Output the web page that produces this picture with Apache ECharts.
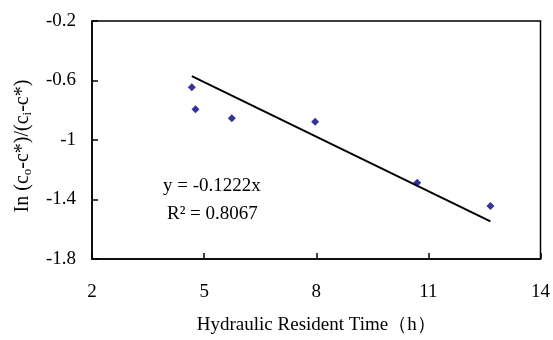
<!DOCTYPE html>
<html>
<head>
<meta charset="utf-8">
<script src="https://cdn.jsdelivr.net/npm/echarts@6/dist/echarts.min.js"></script>
<style>
html,body{margin:0;padding:0;background:#fff;}
#main{width:553px;height:340px;}
</style>
</head>
<body>
<div id="main"></div>
<script>
// Data
var hrtHours = [4.67, 4.77, 5.74, 7.97, 10.70, 12.66];
var lnRatio = [-0.646, -0.793, -0.854, -0.878, -1.288, -1.444];
var trendSlope = -0.1222;
var trendR2 = 0.8067;
var xTicks = [2, 5, 8, 11, 14];
var yTicks = [-1.8, -1.4, -1, -0.6, -0.2];

var points = hrtHours.map(function (x, i) { return [x, lnRatio[i]]; });
var xStart = Math.min.apply(null, hrtHours);
var xEnd = Math.max.apply(null, hrtHours);
var trendLine = [[xStart, trendSlope * xStart], [xEnd, trendSlope * xEnd]];

var FONT = '"Liberation Serif", "Times New Roman", serif';
var chart = echarts.init(document.getElementById('main'), null, {renderer: 'canvas'});
chart.setOption({
  animation: false,
  backgroundColor: '#fff',
  grid: {left: 92, right: 11, top: 21, bottom: 76, show: true, borderColor: '#000', borderWidth: 1.5, backgroundColor: 'transparent'},
  xAxis: {
    type: 'value', min: xTicks[0], max: xTicks[xTicks.length - 1], interval: 3,
    axisLine: {show: true, lineStyle: {color: '#000', width: 1.5}},
    axisTick: {show: true, inside: true, length: 6, lineStyle: {color: '#000', width: 1.5}},
    splitLine: {show: false},
    axisLabel: {color: '#000', fontFamily: FONT, fontSize: 19, margin: 24},
    name: 'Hydraulic Resident Time（h）',
    nameLocation: 'middle', nameGap: 57,
    nameTextStyle: {color: '#000', fontFamily: FONT, fontSize: 19}
  },
  yAxis: {
    type: 'value', min: yTicks[0], max: yTicks[yTicks.length - 1], interval: 0.4,
    axisLine: {show: true, lineStyle: {color: '#000', width: 1.5}},
    axisTick: {show: true, inside: true, length: 6, lineStyle: {color: '#000', width: 1.5}},
    splitLine: {show: false},
    axisLabel: {color: '#000', fontFamily: FONT, fontSize: 19, margin: 16,
      formatter: function (v) { return String(Math.round(v * 10) / 10); }},
    name: '{n|In (c}{s|o}{n|-c*)/(c}{s|i}{n|-c*)}',
    nameLocation: 'middle', nameGap: 58, nameRotate: 90,
    nameTextStyle: {color: '#000', fontFamily: FONT, fontSize: 20, padding: [0, 12, 0, 0],
      rich: {
        n: {fontFamily: FONT, fontSize: 20, color: '#000'},
        s: {fontFamily: FONT, fontSize: 13, color: '#000', verticalAlign: 'bottom', padding: [9, 0, 0, 0]}
      }}
  },
  series: [
    {
      type: 'line', data: trendLine, showSymbol: false, symbol: 'none',
      lineStyle: {color: '#000', width: 2}, silent: true, z: 2
    },
    {
      type: 'scatter', data: points, symbol: 'diamond', symbolSize: 8,
      itemStyle: {color: '#000080'}, z: 3
    }
  ],
  graphic: [
    {type: 'text', left: 163, top: 177, style: {text: 'y = -0.1222x', font: '19px ' + FONT, fill: '#000'}},
    {type: 'text', left: 167, top: 205, style: {text: 'R² = ' + trendR2.toFixed(4), font: '19px ' + FONT, fill: '#000'}}
  ]
});
</script>
</body>
</html>
